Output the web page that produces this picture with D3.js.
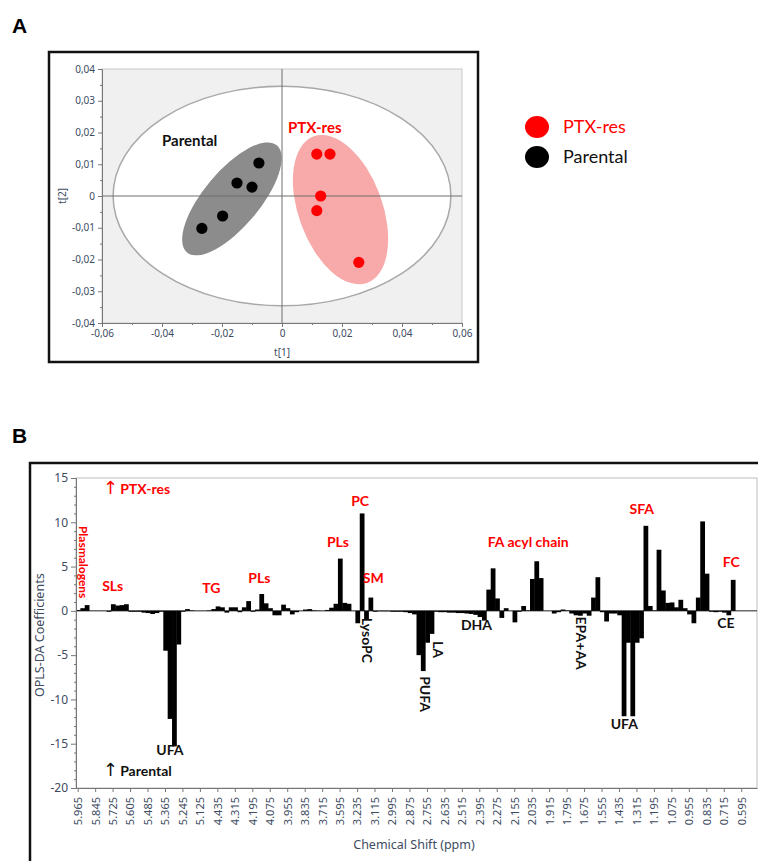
<!DOCTYPE html>
<html>
<head>
<meta charset="utf-8">
<script src="https://cdn.jsdelivr.net/npm/d3@7"></script>
<style>
body { margin: 0; background: #fff; }
svg { display: block; }
.tk text { font-family: "Noto Sans", sans-serif; fill: #3d4b5f; }
.tk path, .tk line { stroke: #777; }
.ann { font-family: Lato, sans-serif; font-weight: bold; font-size: 14px; }
</style>
</head>
<body>
<script>
// ---- panel A: OPLS-DA scores ----
var parentalT1 = [-0.0077, -0.0150, -0.0100, -0.0198, -0.0267];
var parentalT2 = [0.0104, 0.0041, 0.0028, -0.0063, -0.0102];
var ptxT1 = [0.0116, 0.0160, 0.0129, 0.0116, 0.0256];
var ptxT2 = [0.0132, 0.0132, 0.0000, -0.0046, -0.0209];
var scoreTicksX = [-0.06, -0.04, -0.02, 0, 0.02, 0.04, 0.06];
var scoreTicksY = [-0.04, -0.03, -0.02, -0.01, 0, 0.01, 0.02, 0.03, 0.04];
// hotelling T2 ellipse radii (t1, t2) and the two group ellipses (centre, semi axes in t1 units, angle)
var hotelling = [0.0563, 0.0346];
var groupEll = [
  {name: "Parental", c: [-0.0167, -0.0009], a: 0.0233, b: 0.0093, ang: -50, fill: "#8c8c8c"},
  {name: "PTX-res", c: [0.0195, -0.0043], a: 0.026, b: 0.014, ang: 70, fill: "#f8a9a9"}
];

// ---- panel B: OPLS-DA coefficients per 0.03 ppm bucket ----
var coef = [
  0.1, 0.3, 0.65, 0, 0, 0, 0, -0.1, 0.75, 0.6,
  0.65, 0.75, -0.1, -0.1, -0.1, -0.2, -0.25, -0.35, -0.25, -0.1,
  -4.5, -12.2, -15.3, -3.8, -0.1, 0.2, 0.05, 0, 0, 0,
  0.05, 0.2, 0.5, 0.4, -0.2, 0.4, 0.4, -0.15, 0.4, 1.1,
  -0.1, 0.15, 1.9, 0.85, 0.3, -0.5, -0.5, 0.7, 0.3, -0.4,
  -0.15, 0, 0.15, 0.2, 0.05, 0.02, 0, 0.1, 0.35, 0.8,
  5.9, 0.9, 0.8, 0, -1.4, 11.0, -1.0, 1.5, -0.1, -0.05,
  -0.05, -0.05, -0.1, -0.1, -0.1, -0.15, -0.25, -0.4, -5.0, -6.8,
  -3.6, -2.6, -0.1, -0.15, -0.15, -0.2, -0.2, -0.25, -0.25, -0.3,
  -0.35, -0.45, -0.7, -1.1, 2.4, 4.8, 1.4, -0.8, 0.3, 0,
  -1.3, -0.1, 0.55, 0.05, 3.6, 5.6, 3.7, 0, 0, -0.3,
  -0.15, 0.15, 0.05, -0.3, -0.5, -0.55, -0.3, -0.55, 1.5, 3.8,
  -0.15, -1.2, -0.3, -0.3, -0.5, -11.9, -3.6, -11.9, -3.6, -3.1,
  9.6, 0.55, 0.05, 6.9, 2.3, 0.9, 0.95, 0.4, 1.25, 0.3,
  -0.4, -1.4, 1.5, 10.1, 4.2, -0.1, -0.15, -0.1, -0.2, -0.5,
  3.5, 0, 0, 0, 0, 0
];
var shiftLabels = ["5.965", "5.845", "5.725", "5.605", "5.485", "5.365", "5.245", "5.125",
  "4.435", "4.315", "4.195", "4.075", "3.955", "3.835", "3.715", "3.595", "3.235", "3.115",
  "2.995", "2.875", "2.755", "2.635", "2.515", "2.395", "2.275", "2.155", "2.035", "1.915",
  "1.795", "1.675", "1.555", "1.435", "1.315", "1.195", "1.075", "0.955", "0.835", "0.715", "0.595"];
var coefTicks = [-20, -15, -10, -5, 0, 5, 10, 15];
// annotations: [text, bucket, coefficient, colour, rotated]
var notes = [
  ["SLs", 8.4, 2.2, "red", false],
  ["TG", 31.0, 2.0, "red", false],
  ["PLs", 42.0, 3.1, "red", false],
  ["PLs", 60.0, 7.2, "red", false],
  ["PC", 65.1, 11.85, "red", false],
  ["SM", 68.1, 3.2, "red", false],
  ["FA acyl chain", 103.6, 7.2, "red", false],
  ["SFA", 129.6, 10.9, "red", false],
  ["FC", 150.1, 4.9, "red", false],
  ["Plasmalogens", 1.6, 5.5, "red", true],
  ["UFA", 21.5, -16.25, "#111", false],
  ["DHA", 91.75, -2.2, "#111", false],
  ["UFA", 125.6, -13.35, "#111", false],
  ["CE", 148.9, -1.95, "#111", false],
  ["LysoPC", 66.6, -3.33, "#111", true],
  ["LA", 83.0, -4.35, "#111", true],
  ["PUFA", 80.0, -9.4, "#111", true],
  ["EPA+AA", 115.6, -3.65, "#111", true]
];

var svg = d3.select("body").append("svg")
    .attr("width", 758)
    .attr("height", 861);

// ================= panel A =================
svg.append("text").attr("x", 12).attr("y", 33)
   .style("font-family", "Liberation Sans, Arial, sans-serif").style("font-weight", "bold").style("font-size", "21px")
   .text("A");

svg.append("rect").attr("x", 49).attr("y", 52).attr("width", 429).attr("height", 310)
   .attr("fill", "none").attr("stroke", "#111").attr("stroke-width", 2.5);

var x = d3.scaleLinear().domain([-0.06, 0.06]).range([102, 462]);
var y = d3.scaleLinear().domain([-0.04, 0.04]).range([323, 69]);

var gA = svg.append("g");
gA.append("rect").attr("x", x(-0.06)).attr("y", y(0.04))
  .attr("width", x(0.06) - x(-0.06)).attr("height", y(-0.04) - y(0.04))
  .attr("fill", "#f0f0f0").attr("stroke", "#c8c8c8");

gA.append("ellipse")
  .attr("cx", x(0)).attr("cy", y(0))
  .attr("rx", x(hotelling[0]) - x(0)).attr("ry", y(0) - y(hotelling[1]))
  .attr("fill", "#fff").attr("stroke", "#a8a8a8").attr("stroke-width", 1.5);

gA.selectAll(".grp").data(groupEll).enter().append("ellipse")
  .attr("cx", function(d) { return x(d.c[0]); })
  .attr("cy", function(d) { return y(d.c[1]); })
  .attr("rx", function(d) { return x(d.c[0] + d.a) - x(d.c[0]); })
  .attr("ry", function(d) { return x(d.c[0] + d.b) - x(d.c[0]); })
  .attr("transform", function(d) { return "rotate(" + d.ang + "," + x(d.c[0]) + "," + y(d.c[1]) + ")"; })
  .attr("fill", function(d) { return d.fill; });

// crosshair
gA.append("line").attr("x1", x(-0.06)).attr("x2", x(0.06)).attr("y1", y(0)).attr("y2", y(0))
  .attr("stroke", "#6e6e6e").attr("stroke-width", 1);
gA.append("line").attr("x1", x(0)).attr("x2", x(0)).attr("y1", y(0.04)).attr("y2", y(-0.04))
  .attr("stroke", "#6e6e6e").attr("stroke-width", 1);

function comma(d) {
  if (d === 0) return "0";
  return (d < 0 ? "-" : "") + Math.abs(d).toFixed(2).replace(".", ",");
}

gA.append("g").attr("class", "tk").attr("transform", "translate(0," + y(-0.04) + ")")
  .call(d3.axisBottom(x).tickValues(scoreTicksX).tickFormat(comma).tickSize(4).tickSizeOuter(0));
gA.append("g").attr("class", "tk").attr("transform", "translate(0," + y(-0.04) + ")")
  .call(d3.axisBottom(x).tickValues(d3.range(-5, 6, 2).map(function(k) { return k / 100; })).tickFormat("").tickSize(2).tickSizeOuter(0));
gA.append("g").attr("class", "tk").attr("transform", "translate(" + x(-0.06) + ",0)")
  .call(d3.axisLeft(y).tickValues(scoreTicksY).tickFormat(comma).tickSize(4).tickSizeOuter(0));
gA.append("g").attr("class", "tk").attr("transform", "translate(" + x(-0.06) + ",0)")
  .call(d3.axisLeft(y).tickValues(d3.range(-7, 8, 2).map(function(k) { return k / 200; })).tickFormat("").tickSize(2).tickSizeOuter(0));
gA.selectAll(".tk text").style("font-size", "10px");

gA.append("text").attr("x", x(0)).attr("y", 356).attr("text-anchor", "middle")
  .style("font-family", "Noto Sans, sans-serif").style("font-size", "10px").attr("fill", "#3d4b5f").text("t[1]");
gA.append("text").attr("transform", "translate(66," + y(0) + ") rotate(-90)").attr("text-anchor", "middle")
  .style("font-family", "Noto Sans, sans-serif").style("font-size", "10px").attr("fill", "#3d4b5f").text("t[2]");

gA.selectAll(".par").data(parentalT1).enter().append("circle")
  .attr("cx", function(d) { return x(d); })
  .attr("cy", function(d, i) { return y(parentalT2[i]); })
  .attr("r", 5.6).attr("fill", "#000");
gA.selectAll(".ptx").data(ptxT1).enter().append("circle")
  .attr("cx", function(d) { return x(d); })
  .attr("cy", function(d, i) { return y(ptxT2[i]); })
  .attr("r", 5.6).attr("fill", "#f00");

gA.append("text").attr("class", "ann").attr("x", x(-0.0400)).attr("y", y(0.0158))
  .style("font-size", "15px").attr("fill", "#111").text("Parental");
gA.append("text").attr("class", "ann").attr("x", x(0.0020)).attr("y", y(0.0200))
  .style("font-size", "15px").attr("fill", "#f00").text("PTX-res");

// legend
var legend = svg.append("g").attr("transform", "translate(537,127)");
var legItems = [["PTX-res", "#f00"], ["Parental", "#000"]];
legend.selectAll("ellipse").data(legItems).enter().append("ellipse")
  .attr("cx", 0).attr("cy", function(d, i) { return i * 30; })
  .attr("rx", 12).attr("ry", 11).attr("fill", function(d) { return d[1]; });
legend.selectAll("text").data(legItems).enter().append("text")
  .attr("x", 26).attr("y", function(d, i) { return i * 30 + 6; })
  .style("font-family", "Lato, sans-serif").style("font-size", "18px")
  .attr("fill", function(d) { return d[1] === "#000" ? "#111" : "#f00"; })
  .text(function(d) { return d[0]; });

// ================= panel B =================
svg.append("text").attr("x", 12).attr("y", 443)
   .style("font-family", "Liberation Sans, Arial, sans-serif").style("font-weight", "bold").style("font-size", "21px")
   .text("B");

svg.append("rect").attr("x", 30).attr("y", 463).attr("width", 760).attr("height", 420)
   .attr("fill", "none").attr("stroke", "#111").attr("stroke-width", 2.5);

var xb = d3.scaleBand().domain(d3.range(coef.length)).range([76, 757]);
var yb = d3.scaleLinear().domain([-20, 15]).range([788, 478]);
var bw = xb.bandwidth();
function bx(b) { return 76 + b * bw; }

var gB = svg.append("g");
gB.append("rect").attr("x", 76).attr("y", yb(15)).attr("width", 757 - 76).attr("height", yb(-20) - yb(15))
  .attr("fill", "#fff").attr("stroke", "#bdbdbd");

gB.append("line").attr("x1", 76).attr("x2", 757).attr("y1", yb(0)).attr("y2", yb(0))
  .attr("stroke", "#222").attr("stroke-width", 1);

gB.selectAll(".bar").data(coef).enter().append("rect")
  .attr("x", function(d, i) { return xb(i); })
  .attr("width", bw + 0.4)
  .attr("y", function(d) { return yb(Math.max(0, d)); })
  .attr("height", function(d) { return Math.abs(yb(d) - yb(0)); })
  .attr("fill", "#000");

var axB = gB.append("g").attr("class", "tk").attr("transform", "translate(0," + yb(-20) + ")")
  .call(d3.axisBottom(xb)
    .tickValues(d3.range(0, coef.length, 4))
    .tickFormat(function(d) { return shiftLabels[d / 4]; })
    .tickSize(4).tickSizeOuter(0));
axB.selectAll("text")
  .attr("transform", "rotate(-90)")
  .attr("x", -9).attr("y", 0).attr("dy", "0.35em")
  .attr("text-anchor", "end")
  .style("font-size", "11px").attr("fill", "#55647a");

var ayB = gB.append("g").attr("class", "tk").attr("transform", "translate(76,0)")
  .call(d3.axisLeft(yb).tickValues(coefTicks).tickSize(5).tickSizeOuter(0)
    .tickFormat(function(d) { return (d < 0 ? "-" : "") + Math.abs(d); }));
ayB.selectAll("text").style("font-size", "12px");
gB.append("g").attr("class", "tk").attr("transform", "translate(76,0)")
  .call(d3.axisLeft(yb).tickValues(d3.range(-20, 16, 1).filter(function(v) { return v % 5 !== 0; }))
    .tickFormat("").tickSize(2).tickSizeOuter(0));

gB.append("text").attr("transform", "translate(44," + yb(-2.75) + ") rotate(-90)").attr("text-anchor", "middle")
  .style("font-family", "Noto Sans, sans-serif").style("font-size", "12.5px").attr("fill", "#3d4b5f")
  .text("OPLS-DA Coefficients");
gB.append("text").attr("x", 414).attr("y", 849).attr("text-anchor", "middle")
  .style("font-family", "Noto Sans, sans-serif").style("font-size", "12.5px").attr("fill", "#3d4b5f")
  .text("Chemical Shift (ppm)");

// group direction notes
var dirNotes = [["PTX-res", 6.2, 13.2, "red"], ["Parental", 6.2, -18.6, "#111"]];
dirNotes.forEach(function(n) {
  var t = gB.append("text").attr("class", "ann").attr("x", bx(n[1])).attr("y", yb(n[2])).attr("fill", n[3]);
  t.append("tspan").style("font-weight", "normal").style("font-family", "DejaVu Sans, sans-serif").style("font-size", "18px").text("\u2191");
  t.append("tspan").attr("dx", 2).text(n[0]);
});

notes.forEach(function(n) {
  var t = gB.append("text").attr("class", "ann").attr("fill", n[3]).text(n[0]);
  if (n[4]) {
    t.attr("transform", "translate(" + bx(n[1]) + "," + yb(n[2]) + ") rotate(90)")
     .attr("text-anchor", "middle").attr("dy", "0.35em");
    if (n[0] === "Plasmalogens") t.style("font-size", "12px");
  } else {
    t.attr("x", bx(n[1])).attr("y", yb(n[2])).attr("text-anchor", "middle");
  }
});
</script>
</body>
</html>
